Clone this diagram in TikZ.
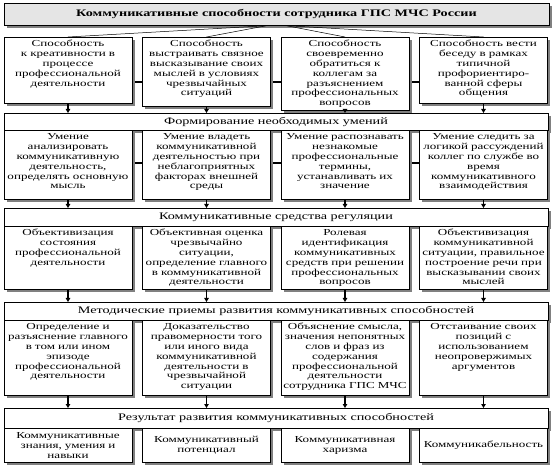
\documentclass[tikz,border=0pt]{standalone}
\usepackage{fontspec}
\setmainfont{Liberation Serif}[FakeStretch=1.42]
\usetikzlibrary{arrows.meta,shadows,backgrounds}
\tikzset{sh/.style={drop shadow={shadow xshift=2.5pt,shadow yshift=-2.5pt,fill=black!50,opacity=1}},
 bx/.style={draw,line width=0.7pt,fill=white,sh,anchor=north,align=center,text width=126pt,inner xsep=1pt,inner ysep=2.5pt,
  font=\fontsize{9.2}{9.8}\selectfont,text height=7pt,text depth=#1},
 cb/.style={draw,line width=0.7pt,fill=white,sh,anchor=north,align=center,text width=126pt,inner xsep=1pt,minimum height=34pt,
  font=\fontsize{9.2}{9.8}\selectfont},
 br/.style={draw,line width=0.7pt,fill=white,sh,anchor=north,minimum width=544pt,minimum height=#1,inner sep=0pt,
  font=\fontsize{10}{10}\selectfont},
 tt/.style={br=22pt,minimum width=545pt,fill=black!10,font=\fontsize{10}{10}\selectfont\bfseries},
 ar/.style={line width=1.1pt,-{Triangle[length=4pt,width=4.5pt]}},
 ln/.style={line width=1.8pt},fn/.style={line width=0.5pt}}

\begin{document}
\begin{tikzpicture}[x=1pt,y=-1pt]
\useasboundingbox (0,0) rectangle (554,470);
\node[tt](t) at (276.5,3){Коммуникативные способности сотрудника ГПС МЧС России};
% abilities
\node[bx=54pt](a1) at (68,37){Способность\\к креативности в\\процессе\\профессиональной\\деятельности};
\node[bx=57pt](a2) at (206.5,37){Способность\\выстраивать связное\\высказывание своих\\мыслей в условиях\\чрезвычайных\\ситуаций};
\node[bx=61pt](a3) at (345,37){Способность\\своевременно\\обратиться к\\коллегам за\\разъяснением\\профессиональных\\вопросов};
\node[bx=54pt](a4) at (483.5,37){Способность вести\\беседу в рамках\\типичной\\профориентиро-\\ванной сферы\\общения};
% skills
\node[br=17pt](s1) at (276,113){Формирование необходимых умений};
\node[bx=57pt](b1) at (68,130){Умение\\анализировать\\коммуникативную\\деятельность,\\определять основную\\мысль};
\node[bx=57pt](b2) at (206.5,130){Умение владеть\\коммуникативной\\деятельностью при\\неблагоприятных\\факторах внешней\\среды};
\node[bx=57pt](b3) at (345,130){Умение распознавать\\незнакомые\\профессиональные\\термины,\\устанавливать их\\значение};
\node[bx=57pt](b4) at (483.5,130){Умение следить за\\логикой рассуждений\\коллег по службе во\\время\\коммуникативного\\взаимодействия};
% means
\node[br=18pt](s2) at (276,208){Коммуникативные средства регуляции};
\node[bx=51pt](c1) at (68,226){Объективизация\\состояния\\профессиональной\\деятельности};
\node[bx=51pt](c2) at (206.5,226){Объективная оценка\\чрезвычайно\\ситуации,\\определение главного\\в коммуникативной\\деятельности};
\node[bx=51pt](c3) at (345,226){Ролевая\\идентификация\\коммуникативных\\средств при решении\\профессиональных\\вопросов};
\node[bx=51pt](c4) at (483.5,226){Объективизация\\коммуникативной\\ситуации, правильное\\построение речи при\\высказывании своих\\мыслей};
% methods
\node[br=18pt](s3) at (276,302){Методические приемы развития коммуникативных способностей};
\node[bx=63pt](d1) at (68,320){Определение и\\разъяснение главного\\в том или ином\\эпизоде\\профессиональной\\деятельности};
\node[bx=63pt](d2) at (206.5,320){Доказательство\\правомерности того\\или иного вида\\коммуникативной\\деятельности в\\чрезвычайной\\ситуации};
\node[bx=63pt](d3) at (345,320){Объяснение смысла,\\значения непонятных\\слов и фраз из\\содержания\\профессиональной\\деятельности\\сотрудника~ГПС~МЧС};
\node[bx=63pt](d4) at (483.5,320){Отстаивание своих\\позиций с\\использованием\\неопровержимых\\аргументов};
% result
\node[br=20pt](s4) at (276,408){Результат развития коммуникативных способностей};
\node[cb](e1) at (68,428){Коммуникативные\\знания, умения и\\навыки};
\node[cb](e2) at (206.5,428){Коммуникативный\\потенциал};
\node[cb](e3) at (345,428){Коммуникативная\\харизма};
\node[cb](e4) at (483.5,428){Коммуникабельность};
\begin{pgfonlayer}{background}
\draw[ln]([yshift=-45pt]a1.north)--([yshift=-45pt]a4.north);
\draw[ln]([yshift=-33pt]b1.north)--([yshift=-33pt]b4.north);
\end{pgfonlayer}
\draw[fn]([xshift=-10pt]t.south)--(a1.north);\draw[fn]([xshift=-10pt]t.south)--(a2.north);
\draw[fn]([xshift=10pt]t.south)--(a3.north);\draw[fn]([xshift=10pt]t.south)--(a4.north);
\draw[ar](a1.south)--(a1.south|-s1.north);\draw[ar](a2.south)--(a2.south|-s1.north);
\draw[ar](a3.south)--(a3.south|-s1.north);\draw[ar](a4.south)--(a4.south|-s1.north);
\draw[ar](b1.south)--(b1.south|-s2.north);\draw[ar](b2.south)--(b2.south|-s2.north);
\draw[ar](b3.south)--(b3.south|-s2.north);\draw[ar](b4.south)--(b4.south|-s2.north);
\draw[ar](c1.south)--(c1.south|-s3.north);\draw[ar](c2.south)--(c2.south|-s3.north);
\draw[ar](c3.south)--(c3.south|-s3.north);\draw[ar](c4.south)--(c4.south|-s3.north);
\draw[ar](d1.south)--(d1.south|-s4.north);\draw[ar](d2.south)--(d2.south|-s4.north);
\draw[ar](d3.south)--(d3.south|-s4.north);\draw[ar](d4.south)--(d4.south|-s4.north);
\end{tikzpicture}
\end{document}
